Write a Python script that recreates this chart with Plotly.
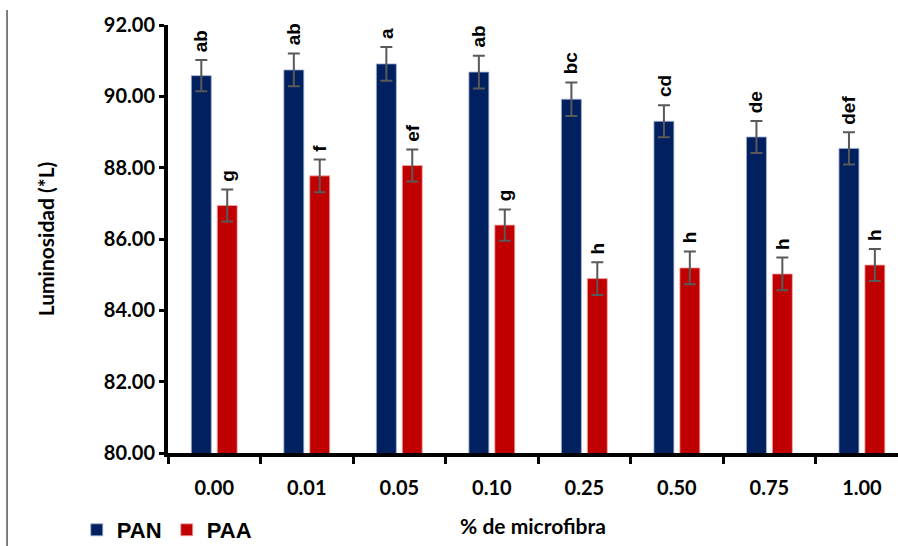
import plotly.graph_objects as go

# Microfibre content (%) on the category axis
categories = ["0.00", "0.01", "0.05", "0.10", "0.25", "0.50", "0.75", "1.00"]

# Mean lightness (L*) and standard deviation for each paper type
pan_values = [90.58, 90.74, 90.91, 90.68, 89.92, 89.30, 88.86, 88.54]
pan_errors = [0.44, 0.46, 0.47, 0.46, 0.47, 0.45, 0.45, 0.45]
paa_values = [86.94, 87.77, 88.06, 86.39, 84.89, 85.19, 85.02, 85.27]
paa_errors = [0.45, 0.46, 0.45, 0.44, 0.46, 0.46, 0.46, 0.45]

# Significance letters (Tukey grouping)
pan_letters = ["ab", "ab", "a", "ab", "bc", "cd", "de", "def"]
paa_letters = ["g", "f", "ef", "g", "h", "h", "h", "h"]

NAVY = "#002060"
RED = "#C00000"
ERR = "#595959"
TICK_FONT = dict(family="Lato", size=20, color="black", weight="bold")
LETTER_FONT = dict(family="Liberation Sans", size=19, color="black", weight="bold")

# half the distance between the two bars of a group, in category units
BAR_OFFSET = 0.1405

fig = go.Figure()
for name, vals, errs, color, edge in (
        ("PAN", pan_values, pan_errors, NAVY, "rgba(160,175,210,0.8)"),
        ("PAA", paa_values, paa_errors, RED, "rgba(240,170,170,0.8)")):
    fig.add_trace(go.Bar(
        name=name, x=categories, y=vals,
        marker=dict(color=color, line=dict(color=edge, width=1)),
        error_y=dict(type="data", array=errs, color=ERR, thickness=2, width=6),
    ))

# Letters just above each error bar, rotated to read upward
for letters, vals, errs, side in ((pan_letters, pan_values, pan_errors, -1),
                                  (paa_letters, paa_values, paa_errors, 1)):
    for i, (lab, v, e) in enumerate(zip(letters, vals, errs)):
        fig.add_annotation(
            x=i + side * BAR_OFFSET, y=v + e, text=lab, textangle=-90,
            showarrow=False, yanchor="bottom", yshift=6, font=LETTER_FONT,
        )

# Thin frame line at the far left
fig.add_shape(type="line", xref="paper", yref="paper",
              x0=-0.2205, x1=-0.2205, y0=1.035, y1=-0.25,
              line=dict(color="black", width=1))

fig.update_layout(
    width=898, height=546,
    margin=dict(l=168, r=0, t=25, b=93, autoexpand=False),
    paper_bgcolor="white", plot_bgcolor="white",
    barmode="group", bargap=0.44, bargroupgap=0.23,
    showlegend=True,
    legend=dict(orientation="h", x=-0.125, y=-0.18, xanchor="left", yanchor="middle",
                font=dict(family="Liberation Sans", size=22, color="black", weight="bold"),
                entrywidth=45, tracegroupgap=0, bgcolor="rgba(0,0,0,0)"),
    xaxis=dict(
        type="category", range=[-0.5, 7.39], automargin=False,
        showline=True, linecolor="black", linewidth=4,
        ticks="outside", tickson="boundaries", ticklen=7, tickwidth=3, tickcolor="black",
        tickfont=TICK_FONT, ticklabelstandoff=14,
        title=dict(text="% de microfibra",
                   font=dict(family="Lato", size=21, color="black", weight="bold"),
                   standoff=22),
        showgrid=False, zeroline=False,
    ),
    yaxis=dict(
        range=[80, 92], tickvals=[80, 82, 84, 86, 88, 90, 92], tickformat=".2f",
        automargin=False,
        showline=True, linecolor="black", linewidth=4,
        ticks="outside", ticklen=5, tickwidth=3, tickcolor="black",
        tickfont=TICK_FONT,
        title=dict(text="Luminosidad (*L)",
                   font=dict(family="Lato", size=21, color="black", weight="bold"),
                   standoff=44),
        showgrid=False, zeroline=False,
    ),
)

fig.write_html("out.html")
